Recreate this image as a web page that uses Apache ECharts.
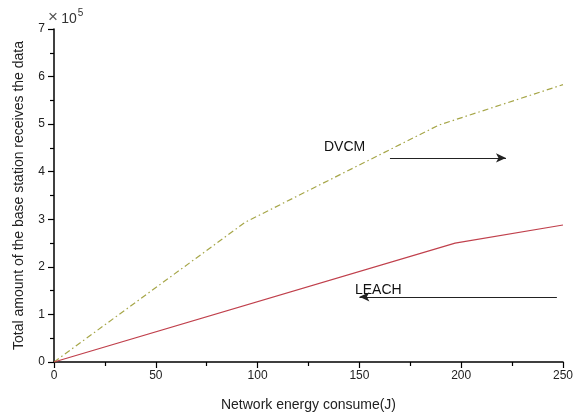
<!DOCTYPE html>
<html>
<head>
<meta charset="utf-8">
<script src="https://cdn.jsdelivr.net/npm/echarts@6/dist/echarts.min.js"></script>
<style>
html,body{margin:0;padding:0;background:#fff;}
#main{width:582px;height:414px;}
</style>
</head>
<body>
<div id="main"></div>
<script>
// 数据: x 为网络能耗 (J), y 单位为 10^5
var dvcmData = [[0, 0], [94, 2.94], [189, 4.98], [250, 5.83]];
var leachData = [[0, 0], [197, 2.5], [250, 2.88]];

// 两个箭头标注 (数据坐标)
var dvcmArrow = [[165, 4.29], [222, 4.29]];
var leachArrow = [[247, 1.37], [150, 1.37]];

var xTicks = [0, 50, 100, 150, 200, 250];
var yTicks = [0, 1, 2, 3, 4, 5, 6, 7];

var axisFont = 'Liberation Sans, Arial, sans-serif';

var myChart = echarts.init(document.getElementById('main'));

function arrowLine(pts) {
    return {
        silent: true,
        symbol: ['none', 'arrow'],
        symbolSize: [7, 10],
        label: { show: false },
        lineStyle: { color: '#222', width: 1, type: 'solid' },
        data: [[{ coord: pts[0] }, { coord: pts[1] }]]
    };
}

var option = {
    backgroundColor: '#fff',
    animation: false,
    grid: { left: 54, right: 19, top: 29, bottom: 52, outerBoundsMode: 'none', containLabel: false },
    xAxis: {
        type: 'value',
        min: xTicks[0],
        max: xTicks[xTicks.length - 1],
        interval: 50,
        name: 'Network energy consume(J)',
        nameLocation: 'middle',
        nameGap: 36,
        nameTextStyle: { fontFamily: axisFont, fontSize: 14, color: '#222' },
        axisLine: { lineStyle: { color: '#000', width: 1.5 } },
        axisTick: { inside: false, length: 6, lineStyle: { color: '#000', width: 1.2 } },
        minorTick: { show: true, splitNumber: 2, length: 4, lineStyle: { color: '#000', width: 1.2 } },
        axisLabel: { fontFamily: axisFont, fontSize: 12, color: '#222', margin: 8 },
        splitLine: { show: false }
    },
    yAxis: {
        type: 'value',
        min: yTicks[0],
        max: yTicks[yTicks.length - 1],
        interval: 1,
        name: 'Total amount of the base station receives the data',
        nameLocation: 'middle',
        nameGap: 28,
        nameTextStyle: { fontFamily: axisFont, fontSize: 14, color: '#222' },
        axisLine: { show: true, lineStyle: { color: '#000', width: 1.5 } },
        axisTick: { show: true, inside: false, length: 6, lineStyle: { color: '#000', width: 1.2 } },
        minorTick: { show: true, splitNumber: 2, length: 4, lineStyle: { color: '#000', width: 1.2 } },
        axisLabel: { fontFamily: axisFont, fontSize: 12, color: '#222', margin: 9 },
        splitLine: { show: false }
    },
    graphic: [
        {
            type: 'text', left: 48, top: 8,
            style: {
                text: '{a|×} {b|10}{c|5}',
                rich: {
                    a: { fontFamily: axisFont, fontSize: 17, fill: '#555' },
                    b: { fontFamily: axisFont, fontSize: 14, fill: '#333', padding: [5, 0, 0, 0] },
                    c: { fontFamily: axisFont, fontSize: 10, fill: '#333', padding: [0, 0, 8, 1] }
                }
            }
        },
        {
            type: 'text', left: 324, top: 140,
            style: { text: 'DVCM', fontFamily: axisFont, fontSize: 14, fill: '#111' }
        },
        {
            type: 'text', left: 355, top: 283,
            style: { text: 'LEACH', fontFamily: axisFont, fontSize: 14, fill: '#111' }
        }
    ],
    series: [
        {
            name: 'DVCM',
            type: 'line',
            data: dvcmData,
            symbol: 'none',
            lineStyle: { color: '#a6a648', width: 1.2, type: [6, 3, 1.5, 3] },
            markLine: arrowLine(dvcmArrow)
        },
        {
            name: 'LEACH',
            type: 'line',
            data: leachData,
            symbol: 'none',
            lineStyle: { color: '#c0404c', width: 1.2 },
            markLine: arrowLine(leachArrow)
        }
    ]
};

myChart.setOption(option);
</script>
</body>
</html>
